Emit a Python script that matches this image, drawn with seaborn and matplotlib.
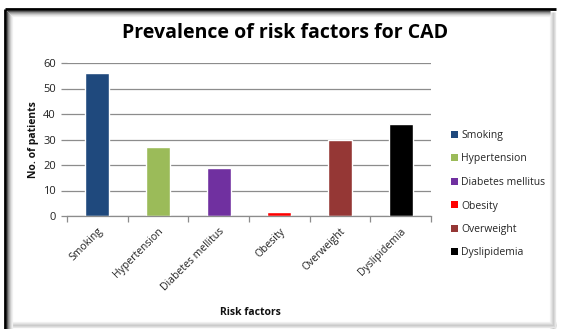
import matplotlib
matplotlib.use("Agg")
import matplotlib.pyplot as plt
import seaborn as sns
import pandas as pd
from matplotlib.patches import Patch
from matplotlib.lines import Line2D

categories = ["Smoking", "Hypertension", "Diabetes mellitus", "Obesity", "Overweight", "Dyslipidemia"]
patients = [56, 27, 19, 1.5, 30, 36]
colors = ["#1F497D", "#9BBB59", "#7030A0", "#FF0000", "#953735", "#000000"]
yticks = [0, 10, 20, 30, 40, 50, 60]

df = pd.DataFrame({"Risk factors": categories, "No. of patients": patients})

sns.set_theme(style="white")
plt.rcParams["font.family"] = ["Open Sans", "DejaVu Sans"]

W, H = 561, 329
fig = plt.figure(figsize=(W / 100, H / 100), dpi=100)
ax = fig.add_axes([67 / W, 1 - 216 / H, (431 - 67) / W, (216 - 63) / H])

sns.barplot(data=df, x="Risk factors", y="No. of patients", hue="Risk factors",
            palette=colors, width=0.4, legend=False, ax=ax, saturation=1)

ax.set_ylim(0, 60)
ax.set_xlim(-0.5, len(categories) - 0.5)
ax.set_yticks(yticks)
ax.yaxis.grid(True, color="#8C8C8C", linewidth=0.9)
ax.set_axisbelow(True)
for s in ["top", "right", "left"]:
    ax.spines[s].set_visible(False)
ax.spines["bottom"].set_color("#8C8C8C")
ax.spines["bottom"].set_linewidth(0.9)

ax.set_xticks(range(len(categories)))
ax.set_xticklabels(categories, rotation=45, ha="right", rotation_mode="anchor",
                   fontsize=7.5, color="#222222")
ax.tick_params(axis="x", length=0, pad=7)
ax.set_xticks([i - 0.5 for i in range(len(categories) + 1)], minor=True)
ax.tick_params(axis="x", which="minor", length=4, width=0.9, color="#8C8C8C", direction="out", bottom=True)
ax.tick_params(axis="y", labelsize=8, length=4, width=0.9, color="#8C8C8C", left=True,
               pad=4, labelcolor="#222222")

ax.set_xlabel("Risk factors", fontsize=7.5, fontweight="bold", color="#111111")
ax.xaxis.set_label_coords(183 / (431 - 67), -(307 - 216) / (216 - 63))
ax.set_ylabel("No. of patients", fontsize=7.5, fontweight="bold", color="#111111")
ax.yaxis.set_label_coords(-(67 - 39) / (431 - 67), 0.5)

fig.text(285 / W, 1 - 33 / H, "Prevalence of risk factors for CAD", ha="center", va="center",
         fontsize=14, fontweight="bold", color="#000000")

handles = [Patch(facecolor=c, edgecolor="none") for c in colors]
leg = fig.legend(handles, categories, loc="upper left", bbox_to_anchor=(451 / W, 1 - 130 / H),
                 frameon=False, fontsize=7.5, handlelength=0.65, handleheight=0.65,
                 handletextpad=0.35, labelspacing=1.2, borderpad=0, borderaxespad=0)

# frame around the chart
def fline(x0, y0, x1, y1, color, lw):
    fig.add_artist(Line2D([x0 / W, x1 / W], [1 - y0 / H, 1 - y1 / H], color=color, lw=lw,
                          transform=fig.transFigure, solid_capstyle="butt"))

shade = ["#F2F2F2", "#E6E6E6", "#D8D8D8", "#CACACA", "#D6D6D6", "#E6E6E6"]
for i, g in enumerate(shade):
    fline(550 + i, 12, 550 + i, 329, g, 0.9)
    fline(8, 322 + i, 556, 322 + i, g, 0.9)
fline(5, 9, 556, 9, "#000000", 2.0)
fline(5, 9, 5, 329, "#000000", 2.0)
for i, g in enumerate(["#555555", "#888888", "#AAAAAA", "#C8C8C8", "#E0E0E0", "#F0F0F0"]):
    fline(7 + i, 11 + i, 7 + i, 329, g, 0.9)
    fline(7 + i, 11 + i, 550, 11 + i, g, 0.9)

fig.savefig("out.png", dpi=100)
